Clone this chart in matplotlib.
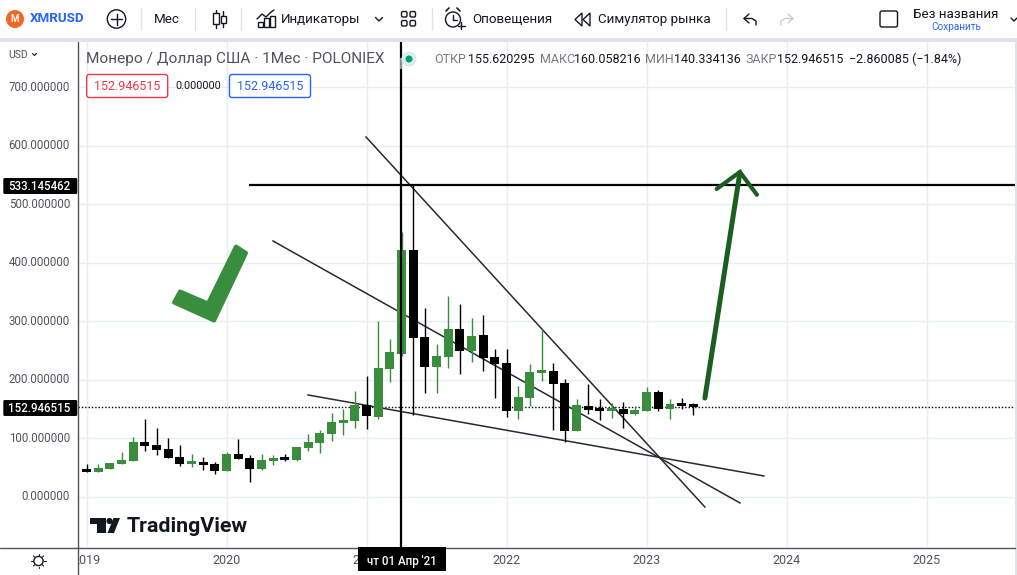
import numpy as np
import matplotlib
matplotlib.use('Agg')
import matplotlib.pyplot as plt
from matplotlib.patches import Rectangle, FancyBboxPatch, Circle, Polygon
from matplotlib.transforms import Bbox

plt.rcParams['font.family'] = ['Roboto', 'DejaVu Sans']

W, H = 1017, 575

# monthly candles, index 0 = Jan 2019
months = np.arange(-1, 53)
opens = [57.5, 46.2, 43.3, 47.9, 56.4, 61.5, 94, 88.8, 82, 68.4, 57, 59.8, 56.4,
         44.5, 73.5, 66.7, 47.9, 61.5, 66.7, 63.2, 83.7, 92.3, 107.6, 126.4, 129.8,
         157.1, 136.6, 218.6, 244.2, 421.7, 273.2, 222, 239, 286.9, 249.3, 276.6, 239,
         228.8, 146.9, 169, 211.8, 215.2, 194.7, 112.7, 155.4, 150.3, 147.4, 150.3, 141.8,
         146.9, 179.3, 150.3, 158.8, 155.62]
closes = [45, 43.3, 49.6, 58.1, 63.2, 94, 87.1, 80.3, 66.7, 56.4, 59.8, 54.7, 44.5,
          73.5, 65, 47.9, 63.2, 66.7, 63.2, 85.4, 94, 109.3, 128.1, 131.5, 157.1,
          138.3, 220.3, 247.6, 421.7, 271.5, 222, 240.8, 286.9, 249.3, 274.9, 237.4, 227,
          146.9, 170.8, 213.5, 215.2, 193, 112.7, 157.1, 148.6, 147.4, 150.3, 141.8, 148.6,
          179.3, 150.3, 158.8, 155.4, 152.95]
highs = [60, 56.4, 56.4, 58.1, 76.9, 102.5, 133.2, 117.9, 100.8, 88.8, 73.5, 68.4, 59.8,
         76.9, 99.1, 71.8, 73.5, 71.8, 73.5, 85.4, 107.6, 114.5, 143.5, 150.3, 181,
         206.6, 300.5, 269.8, 452.4, 533, 322.7, 261.3, 343.2, 329.5, 305.6, 310.8, 252.7,
         252.7, 189.6, 227, 286.9, 228.8, 201.5, 167.4, 193, 167.4, 160, 162.2, 155.4,
         187.8, 182.7, 167.4, 169, 160.06]
lows = [43, 43.3, 43.3, 47.9, 56.4, 61.5, 78.6, 71.8, 66.7, 53, 51.3, 46.2, 40,
        44.5, 65, 25.7, 46.2, 54.7, 61.5, 61.5, 78.6, 75.2, 95.7, 105.9, 118,
        116, 133.2, 196.4, 240, 140.1, 177.6, 177.6, 220.3, 210, 230.5, 215.2, 169.1,
        136.6, 133.2, 155.4, 198.1, 114.4, 94, 112.7, 141.8, 131.5, 134.9, 117.8, 140,
        146.9, 146.9, 133.2, 150.3, 140.33]

# drawings on the chart: (month, price) end points
resistance_x, resistance_y = [23.95, 52.99], [614.7, -17.1]
middle_x, middle_y = [15.98, 56.0], [437.1, -10.2]
support_x, support_y = [18.98, 58.05], [174.2, 35.9]
target_x, target_y = [13.93, 79.7], [532.7, 532.7]
arrow_x, arrow_y = [52.99, 55.99], [169.0, 554.0]
head_x, head_y = [54.0, 55.99, 57.45], [526, 555, 516]
check_x = [8.01, 10.41, 12.81, 13.67, 10.93, 7.5]
check_y = [350.9, 330.4, 427.7, 416.6, 301.3, 332.1]
crosshair_month = 26.92

price_ticks = [0, 100, 200, 300, 400, 500, 600, 700]
year_ticks = [0, 12, 24, 36, 48, 60, 72]
year_labels = ['2019', '2020', '2021', '2022', '2023', '2024', '2025']
last_price = 152.946515
target_price = 533.145462

GREEN = '#388e3c'
BLACK = '#000000'
DARK = '#131722'
GRID = '#e6edf3'
AXIS = '#50535e'
BAND = '#e0e3eb'
ARROW = '#1b5e20'

fig = plt.figure(figsize=(W / 100, H / 100), dpi=100, facecolor='white')


def box(l, t, r, b):
    return [l / W, 1 - b / H, (r - l) / W, (b - t) / H]


# main price pane
ax = fig.add_axes(box(78, 42, 1015, 547))
px_month, px_price = 11.67, 0.5857
x0, y0 = 86.5, 497
ax.set_xlim((78 - x0) / px_month, (1015 - x0) / px_month)
ax.set_ylim((y0 - 547) / px_price, (y0 - 42) / px_price)
ax.set_xticks(year_ticks)
ax.set_yticks(price_ticks)
ax.grid(True, color=GRID, lw=1)
ax.set_axisbelow(True)
ax.tick_params(length=0, labelbottom=False, labelleft=False)
for s in ax.spines.values():
    s.set_visible(False)

ax.axhline(last_price, color=BLACK, lw=1.0, ls=(0, (1, 1.4)), zorder=1.5)

for m, o, c, h, l in zip(months, opens, closes, highs, lows):
    col = GREEN if c >= o else BLACK
    ax.plot([m, m], [l, h], color=col, lw=1, solid_capstyle='butt', zorder=3)
    ax.add_patch(Rectangle((m - 0.385, min(o, c)), 0.77, max(abs(c - o), 5), fc=col, ec='none', zorder=3))

for xs, ys in [(resistance_x, resistance_y), (middle_x, middle_y), (support_x, support_y)]:
    ax.plot(xs, ys, color='#2a2a2e', lw=1.1, zorder=2.5)
ax.plot(target_x, target_y, color=BLACK, lw=1.6, solid_capstyle='butt', zorder=4)
ax.axvline(crosshair_month, color=BLACK, lw=1.6, zorder=4)
ax.plot(arrow_x, arrow_y, color=ARROW, lw=3.6, solid_capstyle='round', zorder=5)
ax.plot(head_x, head_y, color=ARROW, lw=3.0, solid_capstyle='round', solid_joinstyle='miter', zorder=5)
ax.add_patch(Polygon(np.column_stack([check_x, check_y]), fc=GREEN, ec=GREEN, lw=2.9, joinstyle='round', zorder=5))

# screen overlay in pixels for the terminal chrome
ui = fig.add_axes([0, 0, 1, 1], zorder=10)
ui.set_xlim(0, W)
ui.set_ylim(H, 0)
ui.axis('off')
ui.patch.set_alpha(0)


def txt(x, y, s, size=9.6, color=DARK, **kw):
    kw.setdefault('va', 'center')
    return ui.text(x, y, s, fontsize=size, color=color, **kw)


def seg(x, y, color=DARK, lw=1.0):
    ui.plot(x, y, color=color, lw=lw, solid_capstyle='round')


# toolbar + separator bands
ui.add_patch(Rectangle((0, 0), W, 38, fc='white', ec='none'))
ui.add_patch(Rectangle((0, 38), W, 4, fc=BAND, ec='none'))
ui.add_patch(Rectangle((1015, 38), 2, H - 38, fc=BAND, ec='none'))
# left and bottom axis panels
ui.add_patch(Rectangle((0, 42), 77.5, 533, fc='white', ec='none'))
ui.add_patch(Rectangle((0, 547), 1015, 28, fc='white', ec='none'))
seg([77.5, 77.5], [42, 575], AXIS, 1.0)
seg([0, 1015], [547.5, 547.5], AXIS, 1.0)

# symbol
ui.add_patch(Circle((15, 19), 9, fc='#f26822', ec='none'))
ui.text(15, 19.5, 'M', fontsize=7, color='white', ha='center', va='center', fontweight='bold')
txt(30, 19, 'XMRUSD', 9.6, '#2962ff', fontweight='bold')
ui.add_patch(Circle((116.5, 19), 9.2, fc='white', ec=DARK, lw=1))
seg([111, 122], [19, 19])
seg([116.5, 116.5], [13.5, 24.5])
for sx in [140.5, 194.5, 241, 432, 726]:
    seg([sx, sx], [8, 30], BAND, 1)
txt(154, 19.5, 'Мес', 9.6)
# candle icon
seg([216, 216], [10, 28])
seg([223, 223], [11, 27])
ui.add_patch(Rectangle((213, 13), 6, 11, fc='white', ec=DARK, lw=1, zorder=3))
ui.add_patch(Rectangle((220.5, 15.5), 5, 7, fc='white', ec=DARK, lw=1, zorder=3))
# indicators icon
seg([257, 262, 266, 271, 274], [19, 14, 17, 12, 10])
for bx, bt in [(258, 22), (264, 18), (270, 16)]:
    ui.add_patch(Rectangle((bx, bt), 4.5, 27 - bt, fc='white', ec=DARK, lw=1))
txt(281, 19.5, 'Индикаторы', 9.6)
seg([375.5, 379, 382.5], [17.5, 21, 17.5])
for gx in (401.5, 410):
    for gy in (11.5, 20.5):
        ui.add_patch(FancyBboxPatch((gx, gy), 5.5, 5.5, boxstyle='round,pad=0,rounding_size=1.5', fc='white', ec=DARK, lw=1))
# alert icon
ui.add_patch(Circle((453, 19.5), 7.5, fc='white', ec=DARK, lw=1))
seg([453, 453, 457], [15, 20, 20])
seg([446, 449], [11, 8], lw=1.2)
seg([457, 460], [8, 11], lw=1.2)
seg([461, 461], [22, 29])
seg([457.5, 464.5], [25.5, 25.5])
txt(472, 19.5, 'Оповещения', 9.6)
# replay icon
for ox in (575, 583):
    ui.add_patch(Polygon([[ox + 7, 13], [ox, 19.5], [ox + 7, 26]], closed=True, fc='white', ec=DARK, lw=1))
txt(598, 19.5, 'Симулятор рынка', 9.6)
# undo / redo
seg([749, 744, 749], [14, 18.5, 23])
seg([744, 752, 756, 756], [18.5, 18.5, 21, 25])
seg([788, 793, 788], [14, 18.5, 23], '#c8cad2')
seg([793, 785, 781, 781], [18.5, 18.5, 21, 25], '#c8cad2')
ui.add_patch(FancyBboxPatch((880, 11), 17.5, 16, boxstyle='round,pad=0,rounding_size=2', fc='white', ec=DARK, lw=1))
txt(913, 14, 'Без названия', 9.6)
txt(931, 27, 'Сохранить', 7.2, '#2962ff')
seg([1011, 1014, 1017], [18, 21, 18])

# legend line
txt(86, 59, 'Монеро / Доллар США · 1Мес · POLONIEX', 11.1, AXIS)
ui.add_patch(Rectangle((400, 58), 2.2, 11, fc='#8a8c94', ec='none'))
ui.add_patch(Circle((409, 59), 7.5, fc='#d8eee9', ec='none'))
ui.add_patch(Circle((409, 59), 3.5, fc='#089981', ec='none'))
for x, s, c in [(434, 'ОТКР', '#787b86'), (468, '155.620295', DARK), (540, 'МАКС', '#787b86'), (574, '160.058216', DARK),
                (645, 'МИН', '#787b86'), (674, '140.334136', DARK), (746, 'ЗАКР', '#787b86'), (777, '152.946515', DARK),
                (849, '−2.860085 (−1.84%)', DARK)]:
    txt(x, 59.5, s, 9.0, c)

# buy / sell boxes
ui.add_patch(FancyBboxPatch((86.7, 74.5), 81, 23, boxstyle='round,pad=0,rounding_size=2.5', fc='white', ec='#f23645', lw=1))
txt(127, 86.5, '152.946515', 9.0, '#f23645', ha='center')
txt(198.5, 86, '0.000000', 7.8, DARK, ha='center')
ui.add_patch(FancyBboxPatch((229.5, 74.5), 81, 23, boxstyle='round,pad=0,rounding_size=2.5', fc='white', ec='#2962ff', lw=1))
txt(270, 86.5, '152.946515', 9.0, '#2962ff', ha='center')

# price axis
txt(8, 55, 'USD', 7.5, AXIS)
seg([32.5, 34.5, 36.5], [53.5, 55.5, 53.5], lw=0.8)
for p in price_ticks:
    txt(70, y0 - p * px_price, f'{p:.6f}', 8.3, AXIS, ha='right')
ui.add_patch(FancyBboxPatch((3.3, 178), 74, 16, boxstyle='round,pad=0,rounding_size=1.5', fc=BLACK, ec='none'))
txt(8, 186, f'{target_price:.6f}', 8.3, 'white', fontweight='medium')
ui.add_patch(FancyBboxPatch((3.3, 400), 74, 16, boxstyle='round,pad=0,rounding_size=1.5', fc=BLACK, ec='none'))
txt(8, 408, f'{last_price:.6f}', 8.3, 'white', fontweight='medium')

# time axis
for m, s in zip(year_ticks, year_labels):
    t = txt(x0 + m * px_month, 561, s, 9.0, AXIS, ha='center')
    t.set_clip_box(Bbox([[78, 0], [W, H]]))
    t.set_clip_on(True)
ui.add_patch(Rectangle((357.7, 547), 88, 24, fc=BLACK, ec='none', zorder=6))
txt(401.5, 562, 'чт 01 Апр \'21', 8.3, 'white', ha='center', fontweight='medium', zorder=7)

# settings sun
ui.add_patch(Circle((38.5, 561), 4.6, fc='white', ec=DARK, lw=1))
for a in np.arange(0, 360, 45):
    ca, sa = np.cos(np.radians(a)), np.sin(np.radians(a))
    seg([38.5 + 5.6 * ca, 38.5 + 7.2 * ca], [561 + 5.6 * sa, 561 + 7.2 * sa], lw=0.8)

# TradingView logo
ui.add_patch(Polygon([[90, 518], [106, 518], [106, 533], [96.7, 533], [96.7, 524], [90, 524]], fc=DARK, ec='none'))
ui.add_patch(Circle((109.5, 521), 3.1, fc=DARK, ec='none'))
ui.add_patch(Polygon([[113.5, 518], [120, 518], [114, 533], [107.5, 533]], fc=DARK, ec='none'))
txt(127, 526, 'TradingView', 15.4, DARK, fontweight='bold')

fig.savefig('out.png', dpi=100)
